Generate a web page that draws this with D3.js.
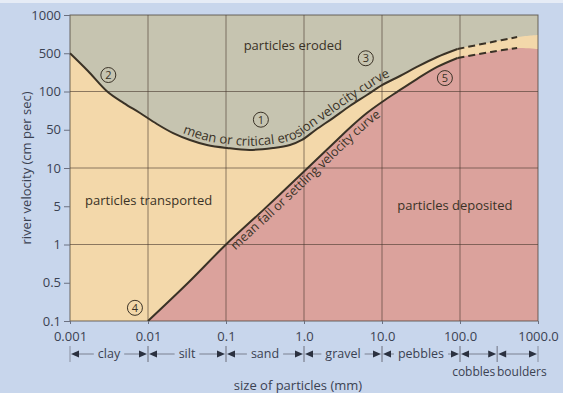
<!DOCTYPE html>
<html>
<head>
<meta charset="utf-8">
<script src="https://cdn.jsdelivr.net/npm/d3@7"></script>
<style>
  html, body { margin: 0; padding: 0; background: #c8d6ec; }
  svg { display: block; font-family: "Open Sans", sans-serif; }
</style>
</head>
<body>
<div id="chart"></div>
<script>
// y axis labels are evenly spaced (not a true log axis)
const yTicks = [0.1, 0.5, 1, 5, 10, 50, 100, 500, 1000];
const yTickLabels = ['0.1', '0.5', '1', '5', '10', '50', '100', '500', '1000'];
const yGrid = [1, 10, 100];

const xTicks = [0.001, 0.01, 0.1, 1, 10, 100, 1000];
const xTickLabels = ['0.001', '0.01', '0.1', '1.0', '10.0', '100.0', '1000.0'];

// particle size classes (mm)
const classNames = ['clay', 'silt', 'sand', 'gravel', 'pebbles', '', ''];
const classFrom = [0.001, 0.01, 0.1, 1, 10, 100, 300];
const classTo = [0.01, 0.1, 1, 10, 100, 300, 1000];
const bigClassNames = ['cobbles', 'boulders'];
const bigClassAt = [150, 620];

// mean / critical erosion velocity curve (size mm -> cm/s)
const erosionSize = [0.001, 0.0017, 0.003, 0.0049, 0.0079, 0.013, 0.021, 0.0345, 0.057, 0.103, 0.2, 0.4, 0.66, 0.94, 1.42, 2.35, 3.87, 6.4, 10, 17, 28, 51, 93];
const erosionVel = [500, 237, 100, 81, 67.7, 55.5, 43.4, 32.5, 26.3, 23.2, 21.4, 23.2, 26.3, 32.5, 50, 61.8, 76.9, 93.8, 131, 192, 281, 427, 540];
const erosionDashSize = [93, 250, 540];
const erosionDashVel = [540, 611, 670];
const erosionEdgeVel = 695;

// mean fall / settling velocity curve
const settlingSize = [0.01, 0.0327, 0.1, 0.316, 1, 2.65, 4.1, 6.4, 10, 15.5, 28, 51, 93];
const settlingVel = [0.1, 0.5, 1, 4.57, 9.4, 32.5, 53.5, 67.7, 82.7, 99, 169, 281, 410];
const settlingDashSize = [93, 250, 540];
const settlingDashVel = [410, 512, 550];
const settlingEdgeVel = 540;

// circled labels
const markNums = ['1', '2', '3', '4', '5'];
const markSize = [0.28, 0.0031, 6.2, 0.0068, 64];
const markVel = [60, 200, 405, 0.174, 176];

const regionNames = ['particles eroded', 'particles transported', 'particles deposited'];
const regionSize = [0.72, 0.0102, 86];
const regionVel = [580, 5.6, 5.1];

const width = 563, height = 393;
const mLeft = 70, mRight = 538, mTop = 15, mBottom = 321;

const ink = '#3a3226';
const axisInk = '#3b4252';

const svg = d3.select('#chart')
    .append('svg')
    .attr('width', width)
    .attr('height', height);

svg.append('rect').attr('width', width).attr('height', height).attr('fill', '#c8d6ec');
svg.append('rect').attr('width', width).attr('height', 3).attr('fill', '#e6ecf6');

const x = d3.scaleLog().domain([0.001, 1000]).range([mLeft, mRight]);
// piecewise log scale so each labelled value gets the same spacing
const y = d3.scaleLog()
    .domain(yTicks)
    .range(yTicks.map((d, i) => mBottom - i * (mBottom - mTop) / (yTicks.length - 1)));

const pts = (s, v) => s.map((d, i) => [d, v[i]]);
const erosionAll = pts(erosionSize, erosionVel)
    .concat(pts(erosionDashSize, erosionDashVel).slice(1), [[1000, erosionEdgeVel]]);
const settlingAll = pts(settlingSize, settlingVel)
    .concat(pts(settlingDashSize, settlingDashVel).slice(1), [[1000, settlingEdgeVel]]);

const smooth = d3.curveCatmullRom.alpha(0.5);
const line = d3.line().x(d => x(d[0])).y(d => y(d[1])).curve(smooth);
const area = d3.area().x(d => x(d[0])).y0(mBottom).y1(d => y(d[1])).curve(smooth);

// fills: eroded (whole plot), transported, deposited
svg.append('rect')
    .attr('x', mLeft).attr('y', mTop)
    .attr('width', mRight - mLeft).attr('height', mBottom - mTop)
    .attr('fill', '#c6c4b0');
svg.append('path').attr('d', area(erosionAll)).attr('fill', '#f3d8aa');
svg.append('path').attr('d', area(settlingAll)).attr('fill', '#dba29c');

// grid
const gridColor = 'rgba(70,55,45,0.6)';
svg.append('g').selectAll('line')
    .data(xTicks.slice(1, -1))
    .join('line')
    .attr('x1', d => x(d)).attr('x2', d => x(d))
    .attr('y1', mTop).attr('y2', mBottom)
    .attr('stroke', gridColor).attr('stroke-width', 1);
svg.append('g').selectAll('line')
    .data(yGrid)
    .join('line')
    .attr('x1', mLeft).attr('x2', mRight)
    .attr('y1', d => y(d)).attr('y2', d => y(d))
    .attr('stroke', gridColor).attr('stroke-width', 1);
svg.append('rect')
    .attr('x', mLeft).attr('y', mTop)
    .attr('width', mRight - mLeft).attr('height', mBottom - mTop)
    .attr('fill', 'none')
    .attr('stroke', 'rgba(70,62,52,0.75)').attr('stroke-width', 1);

// curves
const erosionPath = svg.append('path')
    .attr('d', line(pts(erosionSize, erosionVel)))
    .attr('fill', 'none').attr('stroke', ink).attr('stroke-width', 2);
svg.append('path')
    .attr('d', line(pts(erosionDashSize, erosionDashVel)))
    .attr('fill', 'none').attr('stroke', ink).attr('stroke-width', 2)
    .attr('stroke-dasharray', '7,4');
const settlingPath = svg.append('path')
    .attr('d', line(pts(settlingSize, settlingVel)))
    .attr('fill', 'none').attr('stroke', ink).attr('stroke-width', 2);
svg.append('path')
    .attr('d', line(pts(settlingDashSize, settlingDashVel)))
    .attr('fill', 'none').attr('stroke', ink).attr('stroke-width', 2)
    .attr('stroke-dasharray', '7,4');

// text along the curves: baseline on a copy of the curve shifted sideways
function offsetAtX(node, px) {
  let lo = 0, hi = node.getTotalLength();
  for (let k = 0; k < 30; k++) {
    const m = (lo + hi) / 2;
    if (node.getPointAtLength(m).x < px) lo = m; else hi = m;
  }
  return lo;
}
function shiftedPath(node, fromX, dist) {
  const total = node.getTotalLength();
  const out = [];
  for (let l = offsetAtX(node, fromX); l < total - 1; l += 3) {
    const p = node.getPointAtLength(l);
    const q = node.getPointAtLength(l + 1);
    const len = Math.hypot(q.x - p.x, q.y - p.y) || 1;
    const tx = (q.x - p.x) / len, ty = (q.y - p.y) / len;
    out.push([p.x - ty * dist, p.y + tx * dist]);
  }
  return d3.line().curve(d3.curveBasis)(out);
}

const defs = svg.append('defs');
defs.append('path').attr('id', 'erosion-text-path')
    .attr('d', shiftedPath(erosionPath.node(), 181, -4));
defs.append('path').attr('id', 'settling-text-path')
    .attr('d', shiftedPath(settlingPath.node(), 228, 11));

svg.append('text')
    .attr('font-size', 13).attr('fill', ink)
    .append('textPath')
    .attr('href', '#erosion-text-path')
    .text('mean or critical erosion velocity curve');

svg.append('text')
    .attr('font-size', 12.5).attr('fill', ink)
    .append('textPath')
    .attr('href', '#settling-text-path')
    .text('mean fall or settling velocity curve');

// region labels
svg.append('g').selectAll('text')
    .data(regionNames)
    .join('text')
    .attr('x', (d, i) => x(regionSize[i]))
    .attr('y', (d, i) => y(regionVel[i]))
    .attr('dy', '0.35em')
    .attr('text-anchor', 'middle')
    .attr('font-size', 13)
    .attr('fill', ink)
    .text(d => d);

// circled numbers
const marks = svg.append('g').selectAll('g')
    .data(markNums)
    .join('g')
    .attr('transform', (d, i) => `translate(${x(markSize[i])},${y(markVel[i])})`);
marks.append('circle').attr('r', 7.5)
    .attr('fill', 'none').attr('stroke', ink).attr('stroke-width', 1);
marks.append('text')
    .attr('text-anchor', 'middle').attr('dy', '0.36em')
    .attr('font-size', 11).attr('fill', ink)
    .text(d => d);

// axes
const yAxis = svg.append('g')
    .attr('transform', `translate(${mLeft},0)`)
    .call(d3.axisLeft(y).tickValues(yTicks).tickFormat((d, i) => yTickLabels[i]).tickSize(6).tickPadding(3));
const xAxis = svg.append('g')
    .attr('transform', `translate(0,${mBottom})`)
    .call(d3.axisBottom(x).tickValues(xTicks).tickFormat((d, i) => xTickLabels[i]).tickSize(3).tickPadding(8));
[yAxis, xAxis].forEach(a => {
  a.select('.domain').remove();
  a.selectAll('line').attr('stroke', '#6b7080');
  a.selectAll('text')
      .attr('font-family', '"Open Sans", sans-serif')
      .attr('font-size', 13)
      .attr('fill', axisInk);
});

svg.append('text')
    .attr('transform', `translate(31,${(mTop + mBottom) / 2}) rotate(-90)`)
    .attr('text-anchor', 'middle')
    .attr('font-size', 13)
    .attr('fill', axisInk)
    .text('river velocity (cm per sec)');

svg.append('text')
    .attr('x', 298).attr('y', 390)
    .attr('text-anchor', 'middle')
    .attr('font-size', 13)
    .attr('fill', axisInk)
    .text('size of particles (mm)');

// size class ranges
const rowY = 354;
const classes = svg.append('g').selectAll('g')
    .data(classNames)
    .join('g');
classes.each(function(name, i) {
  const g = d3.select(this);
  const x0 = x(classFrom[i]), x1 = x(classTo[i]);
  const cx = (x0 + x1) / 2;
  [x0, x1].forEach(px => g.append('line')
      .attr('x1', px).attr('x2', px).attr('y1', rowY - 8).attr('y2', rowY + 8)
      .attr('stroke', '#8a90a0').attr('stroke-width', 1));
  g.append('path')
      .attr('d', `M${x0 + 1},${rowY}L${x0 + 9},${rowY - 3.5}L${x0 + 9},${rowY + 3.5}Z`)
      .attr('fill', '#2b3140');
  g.append('path')
      .attr('d', `M${x1 - 1},${rowY}L${x1 - 9},${rowY - 3.5}L${x1 - 9},${rowY + 3.5}Z`)
      .attr('fill', '#2b3140');
  let half = 0;
  if (name) {
    const t = g.append('text')
        .attr('x', cx).attr('y', rowY).attr('dy', '0.3em')
        .attr('text-anchor', 'middle')
        .attr('font-size', 12.5)
        .attr('fill', axisInk)
        .text(name);
    half = t.node().getComputedTextLength() / 2 + 4;
  }
  const segs = half ? [[x0 + 9, cx - half], [cx + half, x1 - 9]] : [[x0 + 9, x1 - 9]];
  segs.forEach(s => g.append('line')
      .attr('x1', s[0]).attr('x2', s[1]).attr('y1', rowY).attr('y2', rowY)
      .attr('stroke', '#7a8090').attr('stroke-width', 1));
});

svg.append('g').selectAll('text')
    .data(bigClassNames)
    .join('text')
    .attr('x', (d, i) => x(bigClassAt[i]))
    .attr('y', 376)
    .attr('text-anchor', 'middle')
    .attr('font-size', 12)
    .attr('fill', axisInk)
    .text(d => d);
</script>
</body>
</html>
